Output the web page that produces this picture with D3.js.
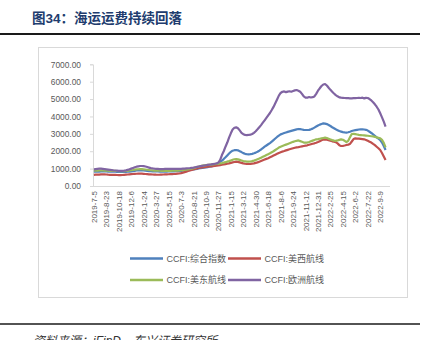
<!DOCTYPE html>
<html>
<head>
<meta charset="utf-8">
<script src="https://cdn.jsdelivr.net/npm/d3@7"></script>
<style>
  html, body { margin: 0; padding: 0; background: #fff; }
  svg { display: block; }
</style>
</head>
<body>
<svg id="chart" width="427" height="340"></svg>
<script>
// ---------- DATA ----------
const categories = [
  "2019-7-5","2019-7-12","2019-7-19","2019-7-26","2019-8-2","2019-8-9","2019-8-16","2019-8-23","2019-8-30","2019-9-6",
  "2019-9-13","2019-9-20","2019-9-27","2019-10-11","2019-10-18","2019-10-25","2019-11-1","2019-11-8","2019-11-15","2019-11-22",
  "2019-11-29","2019-12-6","2019-12-13","2019-12-20","2019-12-27","2020-1-3","2020-1-10","2020-1-17","2020-1-24","2020-2-14",
  "2020-2-21","2020-2-28","2020-3-6","2020-3-13","2020-3-20","2020-3-27","2020-4-3","2020-4-10","2020-4-17","2020-4-24",
  "2020-4-30","2020-5-8","2020-5-15","2020-5-22","2020-5-29","2020-6-5","2020-6-12","2020-6-19","2020-6-24","2020-7-3",
  "2020-7-10","2020-7-17","2020-7-24","2020-7-31","2020-8-7","2020-8-14","2020-8-21","2020-8-28","2020-9-4","2020-9-11",
  "2020-9-18","2020-9-25","2020-9-30","2020-10-9","2020-10-16","2020-10-23","2020-10-30","2020-11-6","2020-11-13","2020-11-20",
  "2020-11-27","2020-12-4","2020-12-11","2020-12-18","2020-12-25","2020-12-31","2021-1-8","2021-1-15","2021-1-22","2021-1-29",
  "2021-2-5","2021-2-19","2021-2-26","2021-3-5","2021-3-12","2021-3-19","2021-3-26","2021-4-2","2021-4-9","2021-4-16",
  "2021-4-23","2021-4-30","2021-5-7","2021-5-14","2021-5-21","2021-5-28","2021-6-4","2021-6-11","2021-6-18","2021-6-25",
  "2021-7-2","2021-7-9","2021-7-16","2021-7-23","2021-7-30","2021-8-6","2021-8-13","2021-8-20","2021-8-27","2021-9-3",
  "2021-9-10","2021-9-17","2021-9-24","2021-9-30","2021-10-8","2021-10-15","2021-10-22","2021-10-29","2021-11-5","2021-11-12",
  "2021-11-19","2021-11-26","2021-12-3","2021-12-10","2021-12-17","2021-12-24","2021-12-31","2022-1-7","2022-1-14","2022-1-21",
  "2022-1-28","2022-2-11","2022-2-18","2022-2-25","2022-3-4","2022-3-11","2022-3-18","2022-3-25","2022-4-1","2022-4-8",
  "2022-4-15","2022-4-22","2022-4-29","2022-5-6","2022-5-13","2022-5-20","2022-5-27","2022-6-2","2022-6-10","2022-6-17",
  "2022-6-24","2022-7-1","2022-7-8","2022-7-15","2022-7-22","2022-7-29","2022-8-5","2022-8-12","2022-8-19","2022-8-26",
  "2022-9-2","2022-9-9","2022-9-16","2022-9-23","2022-9-30","2022-10-14","2022-10-21"
];

const xTickLabels = [
  "2019-7-5","2019-8-23","2019-10-18","2019-12-6","2020-1-24","2020-3-27","2020-5-15","2020-7-3",
  "2020-8-21","2020-10-9","2020-11-27","2021-1-15","2021-3-12","2021-4-30","2021-6-18","2021-8-6",
  "2021-9-24","2021-11-12","2021-12-31","2022-2-25","2022-4-15","2022-6-2","2022-7-22","2022-9-9"
];

const yTicks = [0, 1000, 2000, 3000, 4000, 5000, 6000, 7000];

const seriesNames = ["CCFI:综合指数", "CCFI:美西航线", "CCFI:美东航线", "CCFI:欧洲航线"];
const seriesColors = ["#4F81BD", "#C0504D", "#9BBB59", "#8064A2"];

const ccfiComposite = [
  820,825,830,828,835,840,838,835,830,828,825,822,820,
  818,815,812,810,808,812,820,830,845,860,875,890,900,905,900,
  895,880,870,860,850,845,840,838,835,832,830,828,830,832,835,838,840,845,850,855,860,
  870,880,890,900,915,930,945,960,975,990,1005,1020,1035,1050,
  1070,1090,1110,1130,1160,1200,1250,1310,1380,1460,1550,1650,1760,1870,1960,2030,
  2060,2070,2050,2000,1950,1890,1850,1825,
  1820,1830,1850,1880,1920,1970,2030,2100,2180,2260,2330,2400,2470,2550,2640,2730,2820,2900,
  2970,3010,3050,3080,3110,3140,3170,3200,3230,3260,3280,3270,3250,3230,3220,
  3220,3230,3260,3300,3360,3420,3480,3530,3570,3600,3590,
  3560,3510,3450,3380,3320,3260,3210,3160,3130,3100,3080,3070,
  3090,3120,3160,3190,3210,3230,3250,3260,3260,3250,3230,3190,3120,
  3050,2970,2890,2800,2720,2645,2500,2300,2070
];

const ccfiUSWest = [
  640,650,660,655,665,670,665,660,650,645,640,638,635,
  632,630,628,632,640,650,660,670,680,690,700,705,710,712,708,
  700,690,680,670,665,660,655,650,648,650,655,660,665,670,675,680,685,690,700,710,720,
  740,770,800,830,860,890,920,950,980,1010,1040,1060,1075,1090,
  1100,1110,1120,1130,1140,1150,1165,1180,1200,1220,1240,1260,1280,1300,1330,1360,
  1380,1400,1390,1360,1330,1300,1280,1265,
  1265,1270,1285,1300,1330,1360,1400,1440,1480,1520,1560,1600,1650,1700,1750,1800,1850,1900,
  1940,1980,2010,2050,2080,2110,2140,2170,2200,2225,2240,2260,2280,2300,2320,
  2340,2370,2400,2430,2455,2490,2530,2580,2630,2670,2685,
  2670,2640,2600,2570,2550,2520,2450,2350,2300,2310,2330,2360,
  2380,2420,2560,2700,2740,2730,2720,2710,2700,2685,2650,2600,2550,
  2500,2420,2350,2260,2170,2070,1900,1700,1495
];

const ccfiUSEast = [
  880,885,890,895,900,895,890,885,880,875,870,868,865,
  862,860,858,855,858,865,875,890,905,920,940,955,965,975,970,
  960,950,935,920,905,895,890,885,880,878,875,872,870,870,872,875,878,880,885,890,895,
  905,915,930,945,960,980,1000,1030,1060,1090,1120,1150,1170,1190,
  1200,1210,1220,1230,1240,1250,1265,1280,1300,1320,1345,1370,1400,1430,1470,1510,
  1540,1550,1530,1500,1470,1440,1420,1400,
  1400,1410,1430,1460,1500,1540,1580,1630,1680,1730,1780,1830,1880,1940,2000,2070,2140,2210,
  2260,2300,2340,2380,2420,2460,2500,2540,2570,2600,2620,2580,2540,2500,2490,
  2500,2530,2570,2610,2650,2685,2700,2720,2740,2760,2780,
  2760,2720,2680,2640,2610,2600,2620,2650,2680,2660,2600,2530,
  2600,2800,2990,3000,2980,2960,2940,2930,2920,2910,2900,2890,2875,
  2860,2850,2830,2800,2770,2740,2650,2480,2225
];

const ccfiEurope = [
  960,975,990,1000,995,985,975,960,945,930,915,900,890,
  880,870,865,870,880,900,930,960,1000,1040,1080,1110,1130,1150,1150,
  1140,1120,1090,1060,1030,1010,995,985,980,975,975,975,980,985,990,990,990,985,980,980,985,
  990,995,1000,1010,1020,1030,1045,1060,1080,1100,1120,1140,1160,1180,
  1195,1210,1225,1240,1260,1280,1300,1350,1500,1780,2000,2260,2500,2780,3030,3250,
  3350,3375,3320,3200,3060,2980,2940,2930,
  2935,2950,2990,3060,3150,3260,3380,3500,3640,3780,3920,4060,4200,4370,4550,4760,4980,5200,
  5350,5420,5440,5400,5430,5450,5420,5460,5500,5520,5480,5420,5300,5150,5080,
  5080,5120,5090,5110,5150,5300,5480,5620,5750,5840,5865,
  5780,5650,5530,5420,5320,5230,5160,5100,5080,5070,5060,5050,
  5050,5040,5040,5050,5050,5060,5070,5060,5080,5040,5070,5060,5000,
  4920,4820,4700,4560,4400,4180,3950,3700,3410
];

const seriesValues = [ccfiComposite, ccfiUSWest, ccfiUSEast, ccfiEurope];

// ---------- DRAW ----------
const svg = d3.select("#chart");
const latin = "'Liberation Sans', Arial, 'Noto Sans CJK SC', sans-serif";
const cjk = "'Liberation Sans', 'Noto Sans CJK SC', sans-serif";

// title
svg.append("text")
  .attr("x", 32).attr("y", 23)
  .attr("font-family", cjk).attr("font-size", 13.5).attr("font-weight", "bold")
  .attr("fill", "#213C6E")
  .text("图34：海运运费持续回落");

svg.append("line").attr("x1", 0).attr("x2", 420).attr("y1", 34).attr("y2", 34)
  .attr("stroke", "#1a1a1a").attr("stroke-width", 1.8);

// chart frame
svg.append("rect").attr("x", 38.5).attr("y", 47.5).attr("width", 369).attr("height", 250)
  .attr("fill", "#fff").attr("stroke", "#d9d9d9").attr("stroke-width", 1);

const plot = { left: 93, right: 390, top: 64.3, bottom: 186 };

const x = d3.scalePoint().domain(categories).range([plot.left, plot.right]).padding(0.5);
const y = d3.scaleLinear().domain([0, 7000]).range([plot.bottom, plot.top]);

// y axis
const yAxis = d3.axisLeft(y).tickValues(yTicks).tickFormat(d3.format(".2f")).tickSize(3).tickPadding(9);
const gy = svg.append("g").attr("transform", `translate(${plot.left},0)`).call(yAxis);
gy.select(".domain").attr("stroke", "#d9d9d9");
gy.selectAll(".tick line").attr("stroke", "#d9d9d9");
gy.selectAll(".tick text").attr("fill", "#595959").attr("font-size", 8.4).attr("font-family", latin);

// x axis
const xAxis = d3.axisBottom(x).tickValues(xTickLabels).tickSize(0).tickPadding(0);
const gx = svg.append("g").attr("transform", `translate(0,${plot.bottom})`).call(xAxis);
gx.select(".domain").attr("d", `M${plot.left},0.5H${plot.right}`).attr("stroke", "#d9d9d9");
gx.selectAll(".tick text")
  .attr("fill", "#595959").attr("font-size", 8).attr("font-family", latin)
  .attr("text-anchor", "end").attr("dy", "0.32em")
  .attr("transform", "translate(0,5) rotate(-90)")
  .attr("x", 0).attr("y", 0);

// lines
const line = d3.line()
  .defined(d => d.v != null)
  .x(d => x(d.c))
  .y(d => y(d.v));

seriesValues.forEach((vals, k) => {
  const pts = categories.map((c, i) => ({ c, v: i < vals.length ? vals[i] : null }));
  svg.append("path")
    .datum(pts)
    .attr("fill", "none")
    .attr("stroke", seriesColors[k])
    .attr("stroke-width", 2.2)
    .attr("stroke-linejoin", "round")
    .attr("d", line);
});

// legend (draw order: composite, US West / US East, Europe)
const legendPos = [[130, 258.5], [228, 258.5], [130, 280], [228, 280]];
seriesNames.forEach((name, k) => {
  const [lx, ly] = legendPos[k];
  svg.append("line").attr("x1", lx).attr("x2", lx + 33).attr("y1", ly).attr("y2", ly)
    .attr("stroke", seriesColors[k]).attr("stroke-width", 2.5);
  svg.append("text").attr("x", lx + 36.5).attr("y", ly).attr("dy", "0.35em")
    .attr("font-family", cjk).attr("font-size", 9).attr("fill", "#595959")
    .text(name);
});

// bottom rule and source
svg.append("line").attr("x1", 0).attr("x2", 420).attr("y1", 324).attr("y2", 324)
  .attr("stroke", "#1a1a1a").attr("stroke-width", 1.5);
svg.append("text").attr("x", 33).attr("y", 345)
  .attr("font-family", cjk).attr("font-size", 12).attr("font-style", "italic")
  .attr("fill", "#333")
  .text("资料来源：iFinD，东兴证券研究所");
</script>
</body>
</html>
